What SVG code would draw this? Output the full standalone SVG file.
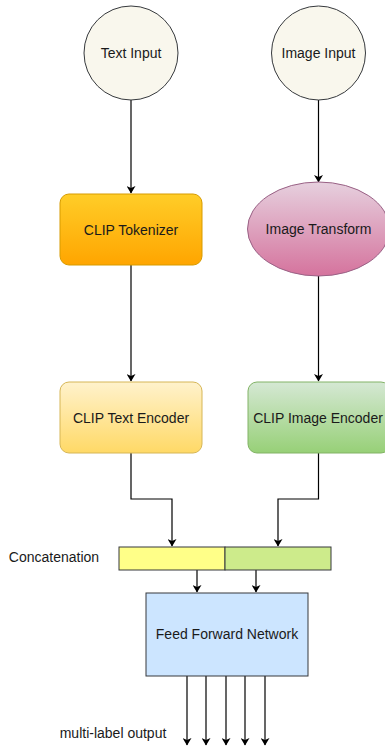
<svg xmlns="http://www.w3.org/2000/svg" width="385" height="749" viewBox="0 0 385 749">
<style>
text{font-family:"Liberation Sans",Arial,sans-serif;font-size:14px;fill:#1a1a1a;text-anchor:middle;dominant-baseline:central}
.c{stroke:#000;stroke-width:1.2;fill:none;marker-end:url(#ah)}
.n{stroke-width:1}
</style>
<defs>
<marker id="ah" markerWidth="8" markerHeight="9" refX="7" refY="4.5" orient="auto" markerUnits="userSpaceOnUse">
<path d="M0,0 L7.5,4.5 L0,9 L2,4.5 Z" fill="#000"/>
</marker>
<linearGradient id="gTok" x1="0" y1="0" x2="0" y2="1"><stop offset="0" stop-color="#ffcd28"/><stop offset="1" stop-color="#ffa500"/></linearGradient>
<linearGradient id="gImgT" x1="0" y1="0" x2="0" y2="1"><stop offset="0" stop-color="#e6d0de"/><stop offset="1" stop-color="#d5739d"/></linearGradient>
<linearGradient id="gTE" x1="0" y1="0" x2="0" y2="1"><stop offset="0" stop-color="#fff2cc"/><stop offset="1" stop-color="#ffd966"/></linearGradient>
<linearGradient id="gIE" x1="0" y1="0" x2="0" y2="1"><stop offset="0" stop-color="#d5e8d4"/><stop offset="1" stop-color="#97d077"/></linearGradient>
</defs>
<rect width="385" height="749" fill="#fff"/>
<g id="connectors">
<path class="c" d="M131,100 V193"/>
<path class="c" d="M318.5,100 V182"/>
<path class="c" d="M131,265 V381"/>
<path class="c" d="M318.5,276 V381"/>
<path class="c" d="M131,453 V499 H172 V546"/>
<path class="c" d="M318.5,453 V499 H278 V546"/>
<path class="c" d="M197,570 V592"/>
<path class="c" d="M256,570 V592"/>
<path class="c" d="M187,676 V745"/>
<path class="c" d="M206,676 V745"/>
<path class="c" d="M226,676 V745"/>
<path class="c" d="M245,676 V745"/>
<path class="c" d="M265,676 V745"/>
</g>
<g id="text-input"><circle class="n" cx="131" cy="53" r="47" fill="#f9f7ed" stroke="#36393d"/><text x="131" y="53">Text Input</text></g>
<g id="image-input"><circle class="n" cx="318.5" cy="53" r="47" fill="#f9f7ed" stroke="#36393d"/><text x="318.5" y="53">Image Input</text></g>
<g id="clip-tokenizer"><rect class="n" x="60" y="194" width="142" height="71" rx="9" fill="url(#gTok)" stroke="#d79b00"/><text x="131" y="229.5">CLIP Tokenizer</text></g>
<g id="image-transform"><ellipse class="n" cx="318.5" cy="229" rx="71" ry="47" fill="url(#gImgT)" stroke="#996185"/><text x="318.5" y="229">Image Transform</text></g>
<g id="clip-text-encoder"><rect class="n" x="60" y="382" width="142" height="71" rx="9" fill="url(#gTE)" stroke="#d6b656"/><text x="131" y="417.5">CLIP Text Encoder</text></g>
<g id="clip-image-encoder"><rect class="n" x="248" y="382" width="142" height="71" rx="9" fill="url(#gIE)" stroke="#82b366"/><text x="318" y="417.5">CLIP Image Encoder</text></g>
<g id="concatenation">
<rect class="n" x="119" y="547" width="106" height="23" fill="#ffff88" stroke="#36393d"/>
<rect class="n" x="225" y="547" width="106" height="23" fill="#cdeb8b" stroke="#36393d"/>
<text x="54" y="557">Concatenation</text>
</g>
<g id="ffn"><rect class="n" x="146" y="593" width="162" height="83" fill="#cce5ff" stroke="#36393d"/><text x="227" y="634">Feed Forward Network</text></g>
<g id="output-label"><text x="113" y="733">multi-label output</text></g>
</svg>
